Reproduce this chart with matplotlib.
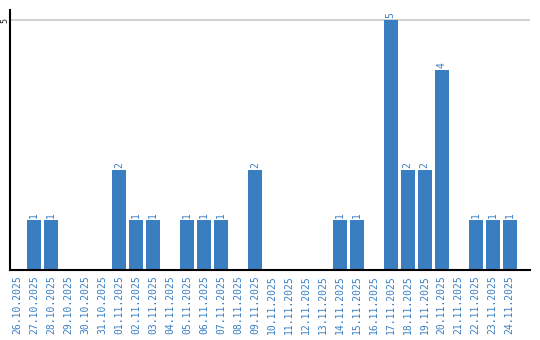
import matplotlib
matplotlib.use("Agg")
import matplotlib.pyplot as plt

dates = ["26.10.2025", "27.10.2025", "28.10.2025", "29.10.2025", "30.10.2025",
         "31.10.2025", "01.11.2025", "02.11.2025", "03.11.2025", "04.11.2025",
         "05.11.2025", "06.11.2025", "07.11.2025", "08.11.2025", "09.11.2025",
         "10.11.2025", "11.11.2025", "12.11.2025", "13.11.2025", "14.11.2025",
         "15.11.2025", "16.11.2025", "17.11.2025", "18.11.2025", "19.11.2025",
         "20.11.2025", "21.11.2025", "22.11.2025", "23.11.2025", "24.11.2025"]
values = [0, 1, 1, 0, 0, 0, 2, 1, 1, 0, 1, 1, 1, 0, 2,
          0, 0, 0, 0, 1, 1, 0, 5, 2, 2, 4, 0, 1, 1, 1]

blue = "#3a7ec2"
label_blue = "#3a7ec2"

fig = plt.figure(figsize=(5.4, 3.4), dpi=100)
ax = fig.add_axes([10/540, 70/340, 520/540, 260/340])

x = list(range(len(dates)))
ax.bar(x, values, width=0.82, color=blue, zorder=2)

for xi, v in zip(x, values):
    if v > 0:
        ax.text(xi, v + 0.04, str(v), rotation=90, ha="center", va="bottom",
                color=label_blue, fontsize=7, family="DejaVu Sans Mono")

ax.set_xlim(-0.42, 30.2)
ax.set_ylim(0, 5.2)
ax.set_yticks([5])
ax.set_yticklabels(["5"], rotation=90, va="center", fontsize=6, color="#222222",
                   family="DejaVu Sans Mono")
ax.yaxis.grid(True, color="#c8c8c8", linewidth=1.2, zorder=0)
ax.set_xticks(x)
ax.set_xticklabels(dates, rotation=90, fontsize=7, color=label_blue,
                   family="DejaVu Sans Mono")
ax.tick_params(axis="both", length=0)
ax.tick_params(axis="x", pad=4)
ax.tick_params(axis="y", pad=0.5)
for s in ["top", "right"]:
    ax.spines[s].set_visible(False)
for s in ["left", "bottom"]:
    ax.spines[s].set_color("black")
    ax.spines[s].set_linewidth(1.5)
ax.set_axisbelow(True)

fig.savefig("out.png", dpi=100)
